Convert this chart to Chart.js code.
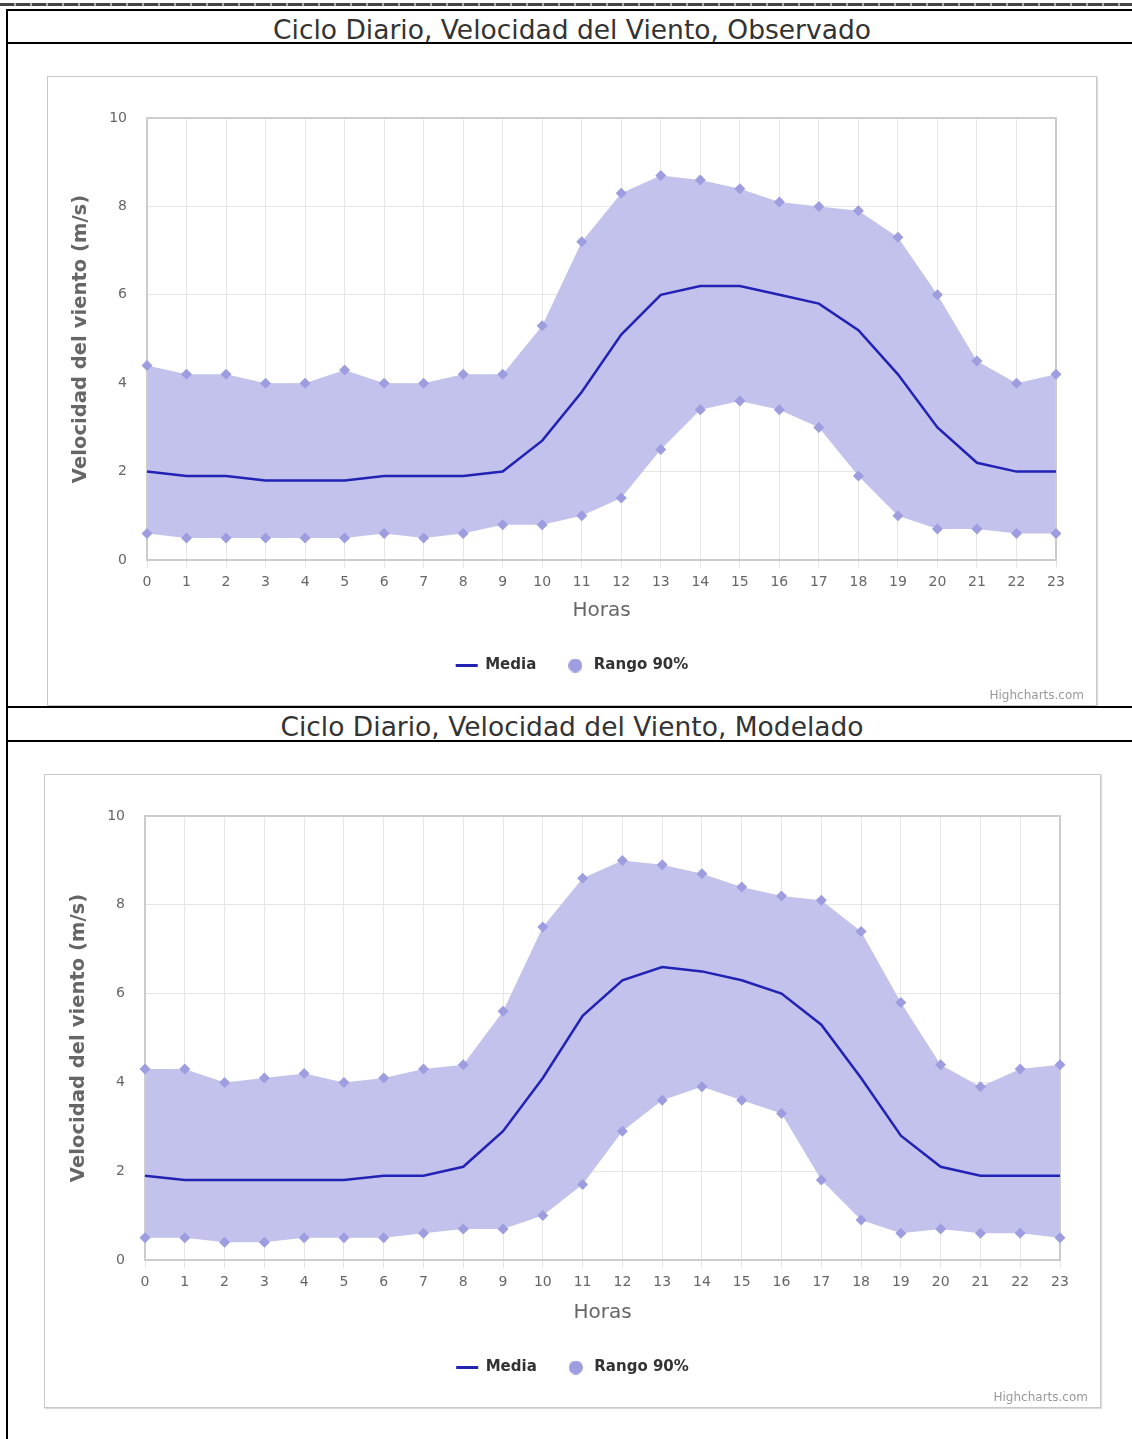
<!DOCTYPE html>
<html>
<head>
<meta charset="utf-8">
<script src="https://cdn.jsdelivr.net/npm/chart.js@4.4.1/dist/chart.umd.min.js"></script>
<style>
    html, body { margin: 0; padding: 0; background: #fff; }
    body { position: relative; width: 1132px; height: 1439px; overflow: hidden; font-family: "DejaVu Sans", sans-serif; }
    .rule { position: absolute; background: #000; }
    .dashrule { position: absolute; left: 0; top: 3px; width: 1132px; height: 3px;
        background: repeating-linear-gradient(90deg, #444 0 14px, #aaa 14px 16px); }
    .title { position: absolute; left: 7px; width: 1130px; text-align: center; font-size: 26.5px; color: #333; line-height: 32px; }
    .box { position: absolute; border: 1px solid #c8c8c8; box-shadow: 1px 1px 1px #ddd; background: #fff; }
    .box canvas { display: block; }
    .credit { position: absolute; right: 12px; bottom: 3px; font-size: 12px; color: #999; }
</style>
</head>
<body>
<div class="dashrule"></div>
<div class="rule" style="left:6px; top:9px; width:1126px; height:2px;"></div>
<div class="rule" style="left:6px; top:9px; width:2px; height:1430px;"></div>
<div class="rule" style="left:6px; top:42px; width:1126px; height:2px;"></div>
<div class="title" style="top:14px;">Ciclo Diario, Velocidad del Viento, Observado</div>

<div class="box" style="left:47px; top:76px; width:1048px; height:628px;">
    <canvas id="chartObs" width="1048" height="628"></canvas>
    <span class="credit">Highcharts.com</span>
</div>

<div class="rule" style="left:6px; top:706px; width:1126px; height:2px;"></div>
<div class="rule" style="left:6px; top:740px; width:1126px; height:2px;"></div>
<div class="title" style="top:711px;">Ciclo Diario, Velocidad del Viento, Modelado</div>

<div class="box" style="left:44px; top:774px; width:1055px; height:632px;">
    <canvas id="chartMod" width="1055" height="632"></canvas>
    <span class="credit">Highcharts.com</span>
</div>

<script>
const hours = ['0','1','2','3','4','5','6','7','8','9','10','11','12','13','14','15','16','17','18','19','20','21','22','23'];

// Observado
const obsMedia = [2.0, 1.9, 1.9, 1.8, 1.8, 1.8, 1.9, 1.9, 1.9, 2.0, 2.7, 3.8, 5.1, 6.0, 6.2, 6.2, 6.0, 5.8, 5.2, 4.2, 3.0, 2.2, 2.0, 2.0];
const obsLow   = [0.6, 0.5, 0.5, 0.5, 0.5, 0.5, 0.6, 0.5, 0.6, 0.8, 0.8, 1.0, 1.4, 2.5, 3.4, 3.6, 3.4, 3.0, 1.9, 1.0, 0.7, 0.7, 0.6, 0.6];
const obsHigh  = [4.4, 4.2, 4.2, 4.0, 4.0, 4.3, 4.0, 4.0, 4.2, 4.2, 5.3, 7.2, 8.3, 8.7, 8.6, 8.4, 8.1, 8.0, 7.9, 7.3, 6.0, 4.5, 4.0, 4.2];

// Modelado
const modMedia = [1.9, 1.8, 1.8, 1.8, 1.8, 1.8, 1.9, 1.9, 2.1, 2.9, 4.1, 5.5, 6.3, 6.6, 6.5, 6.3, 6.0, 5.3, 4.1, 2.8, 2.1, 1.9, 1.9, 1.9];
const modLow   = [0.5, 0.5, 0.4, 0.4, 0.5, 0.5, 0.5, 0.6, 0.7, 0.7, 1.0, 1.7, 2.9, 3.6, 3.9, 3.6, 3.3, 1.8, 0.9, 0.6, 0.7, 0.6, 0.6, 0.5];
const modHigh  = [4.3, 4.3, 4.0, 4.1, 4.2, 4.0, 4.1, 4.3, 4.4, 5.6, 7.5, 8.6, 9.0, 8.9, 8.7, 8.4, 8.2, 8.1, 7.4, 5.8, 4.4, 3.9, 4.3, 4.4];

const yTicks = { min: 0, max: 10, step: 2 };

const FONT = '"DejaVu Sans", sans-serif';
const lineColor = '#2222b5';
const fillColor = '#c2c2ec';
const markerColor = '#9d9de0';
const gridColor = '#e6e6e6';

// small circle for the legend (Chart.js stretches 'circle' when pointStyleWidth is set)
const legendDot = document.createElement('canvas');
legendDot.width = 14;
legendDot.height = 14;
(function () {
    const c = legendDot.getContext('2d');
    c.fillStyle = markerColor;
    c.beginPath();
    c.arc(7, 7, 7, 0, Math.PI * 2);
    c.fill();
})();

const plotBorder = {
    id: 'plotBorder',
    beforeDatasetsDraw(chart) {
        const { ctx, chartArea: a } = chart;
        ctx.save();
        ctx.strokeStyle = '#cccccc';
        ctx.lineWidth = 2;
        ctx.strokeRect(a.left, a.top, a.right - a.left, a.bottom - a.top);
        ctx.restore();
    }
};

function drawChart(canvasId, media, low, high, box) {
    new Chart(document.getElementById(canvasId), {
        type: 'line',
        data: {
            labels: hours,
            datasets: [
                {
                    label: 'Media',
                    data: media,
                    borderColor: lineColor,
                    borderWidth: 2.5,
                    pointRadius: 0,
                    fill: false,
                    tension: 0
                },
                {
                    label: 'Rango 90%',
                    data: high,
                    borderWidth: 0,
                    borderColor: 'rgba(0,0,0,0)',
                    backgroundColor: fillColor,
                    fill: '+1',
                    pointStyle: 'rectRot',
                    pointRadius: 5.5,
                    pointBackgroundColor: markerColor,
                    pointBorderWidth: 0
                },
                {
                    label: 'Rango 90% min',
                    data: low,
                    borderWidth: 0,
                    borderColor: 'rgba(0,0,0,0)',
                    fill: false,
                    pointStyle: 'rectRot',
                    pointRadius: 5.5,
                    pointBackgroundColor: markerColor,
                    pointBorderWidth: 0
                }
            ]
        },
        options: {
            responsive: false,
            animation: false,
            layout: { padding: { left: 0, right: 0, top: box.top, bottom: box.bottom } },
            scales: {
                x: {
                    offset: false,
                    grid: { color: gridColor, tickLength: 8 },
                    border: { display: false },
                    ticks: { color: '#666', font: { family: FONT, size: 14 }, padding: 6, maxRotation: 0, autoSkip: false },
                    title: { display: true, text: 'Horas', color: '#666', font: { family: FONT, size: 20 }, padding: { top: 0, bottom: 7 } },
                    afterFit: s => { s.height = box.axisHeight; }
                },
                y: {
                    min: yTicks.min,
                    max: yTicks.max,
                    ticks: { stepSize: yTicks.step, color: '#666', font: { family: FONT, size: 14 }, padding: 20 },
                    grid: { color: gridColor, drawTicks: false },
                    border: { display: false },
                    title: { display: true, text: 'Velocidad del viento (m/s)', color: '#666', font: { family: FONT, size: 19.6, weight: 'bold' }, padding: { top: box.titleGap, bottom: 0 } },
                    afterFit: s => { s.width = box.left; }
                },
                yRight: {
                    position: 'right',
                    grid: { display: false, drawTicks: false },
                    border: { display: false },
                    ticks: { display: false },
                    afterFit: s => { s.width = box.right; }
                }
            },
            plugins: {
                filler: { drawTime: 'beforeDatasetsDraw' },
                tooltip: { enabled: false },
                legend: {
                    position: 'bottom',
                    onClick: () => {},
                    labels: {
                        usePointStyle: true,
                        pointStyleWidth: 22,
                        boxHeight: 10,
                        padding: 28,
                        color: '#333',
                        font: { family: FONT, size: 15, weight: 'bold' },
                        generateLabels: () => [
                            { text: 'Media', pointStyle: 'line', strokeStyle: lineColor, fillStyle: lineColor, lineWidth: 3, hidden: false, datasetIndex: 0, fontColor: '#333' },
                            { text: 'Rango 90%', pointStyle: legendDot, strokeStyle: markerColor, fillStyle: markerColor, lineWidth: 0, hidden: false, datasetIndex: 1, fontColor: '#333' }
                        ]
                    }
                }
            }
        },
        plugins: [plotBorder]
    });
}

drawChart('chartObs', obsMedia, obsLow, obsHigh, { left: 99, right: 40, top: 41, bottom: 22, axisHeight: 70, titleGap: 21 });
drawChart('chartMod', modMedia, modLow, modHigh, { left: 100, right: 40, top: 41, bottom: 22, axisHeight: 72, titleGap: 22 });
</script>
</body>
</html>
